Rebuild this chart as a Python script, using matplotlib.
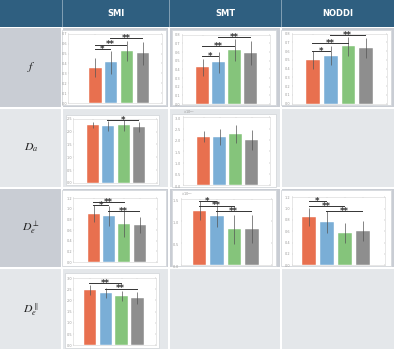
import matplotlib
matplotlib.use("Agg")
import matplotlib.pyplot as plt
from matplotlib.patches import Rectangle
from matplotlib.ticker import ScalarFormatter

plt.rcParams['mathtext.fontset'] = 'stix'

# table text
col_names = ['SMI', 'SMT', 'NODDI']
row_names = [r'$f$', r'$D_a$', r'$D_e^{\perp}$', r'$D_e^{\parallel}$']

# bar values (order: orange, blue, green, gray), error bars, significance brackets
f_smi = [0.357, 0.411, 0.525, 0.501]
f_smi_err = [0.098, 0.119, 0.105, 0.119]
f_smi_sig = [(0, 1, 0.545, '*'), (0, 2, 0.589, '**'), (1, 3, 0.656, '**')]

f_smt = [0.424, 0.48, 0.624, 0.592]
f_smt_err = [0.10, 0.12, 0.128, 0.14]
f_smt_sig = [(0, 1, 0.554, '*'), (0, 2, 0.665, '**'), (1, 3, 0.773, '**')]

f_noddi = [0.50, 0.55, 0.656, 0.64]
f_noddi_err = [0.10, 0.104, 0.108, 0.112]
f_noddi_sig = [(0, 1, 0.598, '*'), (0, 2, 0.693, '**'), (1, 3, 0.781, '**')]

da_smi = [2.27, 2.22, 2.24, 2.17]
da_smi_err = [0.12, 0.20, 0.21, 0.20]
da_smi_sig = [(1, 3, 2.435, '*')]

da_smt = [2.15e-3, 2.13e-3, 2.26e-3, 2.0e-3]
da_smt_err = [0.26e-3, 0.36e-3, 0.39e-3, 0.43e-3]
da_smt_sig = []

dperp_smi = [0.906, 0.869, 0.713, 0.694]
dperp_smi_err = [0.156, 0.185, 0.25, 0.156]
dperp_smi_sig = [(0, 1, 1.062, '*'), (0, 2, 1.119, '**'), (1, 3, 0.95, '**')]

dperp_smt = [1.236e-3, 1.116e-3, 0.815e-3, 0.822e-3]
dperp_smt_err = [0.21e-3, 0.25e-3, 0.33e-3, 0.32e-3]
dperp_smt_sig = [(0, 1, 1.447e-3, '*'), (0, 2, 1.349e-3, '**'), (1, 3, 1.221e-3, '**')]

dperp_noddi = [0.847, 0.765, 0.57, 0.61]
dperp_noddi_err = [0.16, 0.19, 0.18, 0.18]
dperp_noddi_sig = [(0, 1, 1.129, '*'), (0, 2, 1.041, '**'), (1, 3, 0.953, '**')]

dpar_smi = [2.45, 2.33, 2.20, 2.11]
dpar_smi_err = [0.22, 0.22, 0.24, 0.27]
dpar_smi_sig = [(0, 2, 2.777, '**'), (1, 3, 2.525, '**')]

bar_colors = ['#e8704f', '#7aaed6', '#85c47b', '#8e8e8e']

W, H = 400, 349
fig = plt.figure(figsize=(W / 100, H / 100), dpi=100)


def rect(x0, y0, x1, y1, color, ec='none', lw=0):
    fig.patches.append(Rectangle((x0 / W, 1 - y1 / H), (x1 - x0) / W, (y1 - y0) / H,
                                 transform=fig.transFigure, facecolor=color,
                                 edgecolor=ec, linewidth=lw, zorder=-5))


# table background
col_x = [(0, 61), (63, 168), (170, 280), (282, 394)]
row_y = [(28, 107), (109, 187), (189, 267), (269, 349)]
rect(0, 0, 394, 27, '#2f5f80')
for i, (x0, x1) in enumerate(col_x[1:]):
    fig.text((x0 + x1) / 2 / W, 1 - 14 / H, col_names[i], color='white',
             fontsize=6, fontweight='bold', ha='center', va='center')
for x0, _ in col_x[1:]:
    rect(x0 - 1.2, 0, x0 - 0.2, 27, '#7f9db2')
for r, (y0, y1) in enumerate(row_y):
    c = '#c9cdd4' if r % 2 == 0 else '#e4e7ea'
    for x0, x1 in col_x:
        rect(x0, y0, x1, y1, c)
    fig.text(31 / W, 1 - (y0 + y1) / 2 / H, row_names[r], fontsize=8.5,
             ha='center', va='center', color='#222222')


def panel(prect, arect, vals, errs, sig, ylim, nint, xlim, sci=False):
    rect(*prect, 'white', ec='#d5d8dc', lw=0.6)
    l, t, r, b = arect
    ax = fig.add_axes([l / W, 1 - b / H, (r - l) / W, (b - t) / H])
    ax.bar(range(4), vals, width=0.78, color=bar_colors, edgecolor='white',
           linewidth=0.3, zorder=2)
    ax.errorbar(range(4), vals, yerr=errs, fmt='none', ecolor='#555555',
                elinewidth=0.5, capsize=0, zorder=3)
    ax.set_xlim(*xlim)
    ax.set_ylim(0, ylim)
    ax.set_yticks([ylim * k / nint for k in range(nint + 1)])
    ax.set_xticks(range(4))
    ax.set_xticklabels([])
    ax.tick_params(labelsize=2.5, colors='#999999', length=1, width=0.3,
                   pad=1, top=True, right=True, direction='in')
    for s in ax.spines.values():
        s.set_color('#dddddd')
        s.set_linewidth(0.5)
    if sci:
        fmt = ScalarFormatter(useMathText=True)
        fmt.set_powerlimits((0, 0))
        ax.yaxis.set_major_formatter(fmt)
        ax.yaxis.get_offset_text().set_fontsize(2.5)
        ax.yaxis.get_offset_text().set_color('#999999')
    for i, j, y, lab in sig:
        ax.plot([i - 0.05, j - 0.05], [y, y], color='#333333', lw=0.7, zorder=4)
        ax.text((i + j) / 2 - 0.05, y, lab, fontsize=6, fontweight='bold',
                ha='center', va='center', color='#333333', zorder=5)
    return ax


panel((62, 30, 166, 105), (68.3, 33.7, 161.7, 103), f_smi, f_smi_err, f_smi_sig,
      0.7, 7, (-1.7, 4.17))
panel((172, 30, 276, 105), (181.7, 34.7, 270, 104), f_smt, f_smt_err, f_smt_sig,
      0.8, 8, (-1.3, 4.2))
panel((281, 30, 391, 105), (291.7, 33.7, 387.3, 103.7), f_noddi, f_noddi_err,
      f_noddi_sig, 0.8, 8, (-1.2, 4.19))
panel((66, 115, 159, 185), (73.3, 118.7, 156.7, 183), da_smi, da_smi_err,
      da_smi_sig, 2.5, 5, (-1.25, 4.14))
panel((172, 114, 276, 187), (182.7, 117.3, 270, 185.3), da_smt, da_smt_err,
      da_smt_sig, 3e-3, 6, (-1.3, 4.15), sci=True)
panel((62, 190, 166, 266), (73.3, 198, 157.3, 262), dperp_smi, dperp_smi_err,
      dperp_smi_sig, 1.2, 6, (-1.33, 4.15))
panel((172, 190, 276, 266), (181, 199, 271.7, 265.3), dperp_smt, dperp_smt_err,
      dperp_smt_sig, 1.5e-3, 3, (-1.08, 4.15), sci=True)
panel((281, 190, 391, 266), (291.7, 197.3, 385, 265.3), dperp_noddi,
      dperp_noddi_err, dperp_noddi_sig, 1.2, 6, (-0.99, 4.23))
panel((65, 273, 159, 348), (73.3, 278, 156, 345.3), dpar_smi, dpar_smi_err,
      dpar_smi_sig, 3.0, 6, (-1.05, 4.18))

fig.savefig('out.png', dpi=100)
